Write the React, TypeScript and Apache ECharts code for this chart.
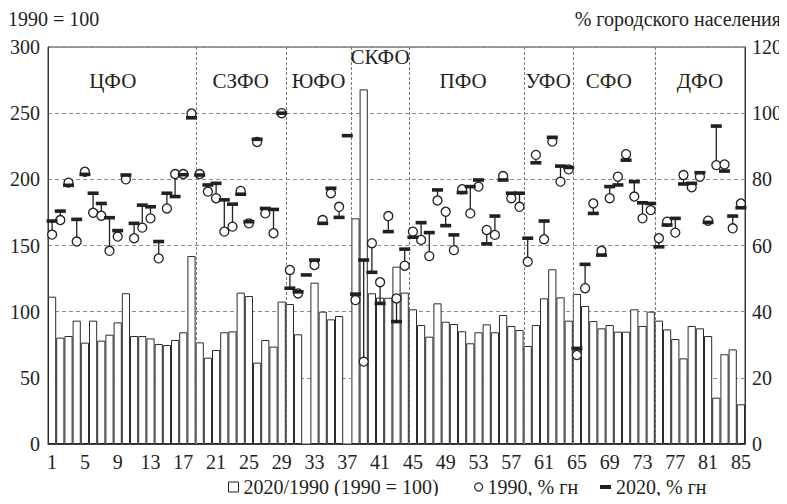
import React, { useEffect, useRef } from "react";
import * as echarts from "echarts";

// Region numbers 1..85 (category labels)
const regionNumbers: string[] = Array.from({ length: 85 }, (_, i) => String(i + 1));

// 2020/1990 index of urban population (1990 = 100), left axis
const index2020to1990: (number | null)[] = [
  111.3, 80.4, 81.6, 93.2, 76.6, 93.2, 78.1, 82.6, 91.9, 113.9,
  81.6, 81.6, 79.8, 75.6, 74.8, 78.6, 84.4, 142.1, 76.8, 65.2,
  71.0, 84.4, 85.1, 114.4, 111.8, 61.5, 78.6, 73.6, 107.6, 105.8,
  82.9, null, 121.9, 100.0, 94.2, 96.7, null, 170.5, 268.0, 113.9,
  110.6, 110.5, 134.0, 114.4, 101.8, 89.9, 81.1, 106.3, 92.4, 90.7,
  85.2, 76.1, 84.4, 90.4, 84.4, 97.5, 89.2, 86.1, 74.1, 89.9,
  110.1, 132.0, 110.8, 93.2, 113.4, 104.3, 92.9, 87.4, 89.9, 84.9,
  84.9, 101.8, 89.2, 100.0, 93.2, 86.6, 79.3, 64.7, 89.2, 87.4,
  81.6, 35.0, 67.8, 71.5, 30.0,
];

// Share of urban population, 1990, % (right axis)
const urban1990: (number | null)[] = [
  63.3, 67.7, 79.0, 61.2, 82.3, 69.9, 69.0, 58.4, 62.7, 80.0,
  62.2, 65.4, 68.2, 56.1, 71.2, 81.6, 81.6, 99.9, 81.6, 76.3,
  74.3, 64.2, 65.7, 76.5, 66.7, 91.3, 69.7, 63.7, 100.0, 52.6,
  45.5, null, 54.1, 67.7, 75.8, 71.7, null, 43.5, 24.9, 60.7,
  48.9, 68.9, 44.0, 53.9, 64.2, 61.7, 56.8, 73.6, 70.2, 58.6,
  77.0, 69.7, 77.8, 64.7, 63.2, 81.0, 74.3, 71.7, 55.1, 87.4,
  61.9, 91.4, 79.3, 83.0, 26.9, 47.1, 72.7, 58.4, 74.3, 80.8,
  87.6, 74.8, 68.2, 70.7, 62.2, 67.2, 63.9, 81.3, 77.6, 80.8,
  67.5, 84.3, 84.5, 65.2, 72.7,
];

// Share of urban population, 2020, % (right axis)
const urban2020: number[] = [
  67.4, 70.4, 78.2, 67.9, 81.5, 75.8, 72.7, 68.4, 64.5, 81.3,
  66.7, 72.2, 71.7, 61.2, 75.8, 74.8, 81.4, 98.6, 81.3, 78.3,
  78.8, 73.8, 72.5, 75.5, 67.2, 92.1, 71.2, 70.9, 100.0, 47.1,
  46.0, 51.1, 55.6, 66.7, 77.3, 68.5, 93.2, 45.3, 55.6, 51.9,
  42.5, 64.2, 37.0, 58.9, 62.5, 66.9, 63.9, 76.8, 66.0, 63.2,
  76.0, 77.8, 79.8, 60.5, 68.9, 79.8, 75.8, 75.8, 62.2, 85.0,
  67.4, 92.7, 84.0, 83.6, 28.9, 54.3, 69.7, 57.1, 77.8, 78.3,
  85.8, 79.3, 72.9, 72.7, 59.6, 66.2, 68.2, 78.6, 78.8, 82.0,
  67.0, 96.1, 82.5, 68.9, 71.4,
];

// Federal districts: names and region ranges (1-based, inclusive)
const districtNames: string[] = ["ЦФО", "СЗФО", "ЮФО", "СКФО", "ПФО", "УФО", "СФО", "ДФО"];
const districtFirst: number[] = [1, 19, 30, 38, 45, 59, 65, 75];
const districtLast: number[] = [18, 29, 37, 44, 58, 64, 74, 85];

const leftTicks = { min: 0, max: 300, interval: 50 };
const rightTicks = { min: 0, max: 120, interval: 20 };

const seriesNames = ["2020/1990 (1990 = 100)", "1990, % гн", "2020, % гн"];

// layout tweaks for district captions (pixels), kept apart from the data
const captionShiftX: Record<string, number> = { "ЦФО": -9, "СФО": -5, "ПФО": -3 };
const captionRaised: Record<string, boolean> = { "СКФО": true };

const FONT = "Liberation Serif";
const INK = "#231f20";

export default function App() {
  const ref = useRef<HTMLDivElement>(null);

  useEffect(() => {
    if (!ref.current) return;
    const chart = echarts.init(ref.current, undefined, { renderer: "svg" });

    const connectorData = urban2020
      .map((v, i) => [i, urban1990[i], v])
      .filter((d) => d[1] != null);
    const circleData = urban1990.map((v, i) => (v == null ? [i, "-"] : [i, v]));
    const dashData = urban2020.map((v, i) => [i, v]);
    const separatorData = districtLast.slice(0, -1).map((k) => [k, 0]);
    const labelData = districtNames.map((_, k) => [districtFirst[k] - 1, districtLast[k] - 1, 0, k]);

    const txt = { fontFamily: FONT, fontSize: 20, color: INK };

    const option: any = {
      animation: false,
      textStyle: { fontFamily: FONT, color: INK },
      title: [
        { text: "1990 = 100", left: 8, top: 9, padding: 0, textStyle: { ...txt, fontWeight: "normal" } },
        { text: "% городского населения", right: 6, top: 9, padding: 0, textStyle: { ...txt, fontWeight: "normal" } },
      ],
      grid: {
        left: 48,
        right: 42,
        top: 47,
        bottom: 60,
        show: true,
        borderColor: "#3a3a3a",
        borderWidth: 1,
        backgroundColor: "transparent",
      },
      legend: [
        {
          data: [seriesNames[0]],
          left: 228,
          top: 477,
          padding: 0,
          selectedMode: false,
          icon: "rect",
          itemWidth: 10,
          itemHeight: 10,
          itemStyle: { color: "#fff", borderColor: INK, borderWidth: 1 },
          textStyle: txt,
        },
        {
          data: [seriesNames[1]],
          left: 474,
          top: 477,
          padding: 0,
          selectedMode: false,
          icon: "circle",
          itemWidth: 8,
          itemHeight: 8,
          itemStyle: { color: "#fff", borderColor: INK, borderWidth: 1.2 },
          textStyle: txt,
        },
        {
          data: [seriesNames[2]],
          left: 600,
          top: 477,
          padding: 0,
          selectedMode: false,
          icon: "rect",
          itemWidth: 11,
          itemHeight: 4,
          itemStyle: { color: INK, borderWidth: 0 },
          textStyle: txt,
        },
      ],
      xAxis: {
        type: "category",
        data: regionNumbers,
        boundaryGap: true,
        axisLine: { show: true, lineStyle: { color: "#3a3a3a" } },
        axisTick: { show: false },
        axisLabel: { interval: 3, ...txt, margin: 8 },
        splitLine: { show: false },
      },
      yAxis: [
        {
          type: "value",
          ...leftTicks,
          axisLine: { show: true, lineStyle: { color: "#3a3a3a" } },
          axisTick: { show: false },
          axisLabel: { ...txt, margin: 8 },
          splitLine: { show: true, lineStyle: { color: "#8c8c8c", type: [4, 3], width: 1 } },
        },
        {
          type: "value",
          position: "right",
          ...rightTicks,
          axisLine: { show: true, lineStyle: { color: "#3a3a3a" } },
          axisTick: { show: false },
          axisLabel: { ...txt, margin: 7 },
          splitLine: { show: false },
        },
      ],
      series: [
        {
          name: seriesNames[0],
          type: "bar",
          data: index2020to1990.map((v) => (v == null ? "-" : v)),
          yAxisIndex: 0,
          barWidth: "100%",
          barCategoryGap: 0,
          itemStyle: { color: "#fff", borderColor: "#2b2b2b", borderWidth: 1 },
          z: 2,
        },
        {
          name: "separators",
          type: "custom",
          yAxisIndex: 0,
          data: separatorData,
          encode: { x: 0, y: 1 },
          clip: false,
          z: 3,
          silent: true,
          renderItem: (params: any, api: any) => {
            const k = api.value(0);
            const a = api.coord([k - 1, 0]);
            const b = api.coord([k, 0]);
            const x = Math.round((a[0] + b[0]) / 2) + 0.5;
            const cs = params.coordSys;
            return {
              type: "line",
              shape: { x1: x, y1: cs.y, x2: x, y2: cs.y + cs.height },
              style: { stroke: "#7a7a7a", lineWidth: 1, lineDash: [3, 2] },
            };
          },
        },
        {
          name: "districts",
          type: "custom",
          yAxisIndex: 0,
          data: labelData,
          encode: { x: [0, 1], y: 2 },
          clip: false,
          z: 3,
          silent: true,
          renderItem: (params: any, api: any) => {
            const a = api.coord([api.value(0), 0]);
            const b = api.coord([api.value(1), 0]);
            const k = api.value(3);
            const name = districtNames[k];
            const cs = params.coordSys;
            const raised = !!captionRaised[name];
            return {
              type: "text",
              style: {
                text: name,
                x: (a[0] + b[0]) / 2 + (captionShiftX[name] || 0),
                y: cs.y + (raised ? 10 : 34),
                align: "center",
                verticalAlign: "middle",
                fontFamily: FONT,
                fontSize: 21,
                fill: INK,
              },
            };
          },
        },
        {
          name: "connectors",
          type: "custom",
          yAxisIndex: 1,
          data: connectorData,
          encode: { x: 0, y: [1, 2] },
          z: 4,
          silent: true,
          renderItem: (params: any, api: any) => {
            const p1 = api.coord([api.value(0), api.value(1)]);
            const p2 = api.coord([api.value(0), api.value(2)]);
            return {
              type: "line",
              shape: { x1: p1[0], y1: p1[1], x2: p2[0], y2: p2[1] },
              style: { stroke: INK, lineWidth: 1.3 },
            };
          },
        },
        {
          name: seriesNames[1],
          type: "scatter",
          yAxisIndex: 1,
          data: circleData,
          symbol: "circle",
          symbolSize: 9,
          itemStyle: { color: "#fff", borderColor: INK, borderWidth: 1.3, opacity: 1 },
          z: 5,
        },
        {
          name: seriesNames[2],
          type: "scatter",
          yAxisIndex: 1,
          data: dashData,
          symbol: "rect",
          symbolSize: [11, 3.6],
          itemStyle: { color: INK, opacity: 1 },
          z: 6,
        },
      ],
    };

    chart.setOption(option);
    return () => chart.dispose();
  }, []);

  return <div ref={ref} style={{ width: 787, height: 504, margin: -8 }} />;
}
